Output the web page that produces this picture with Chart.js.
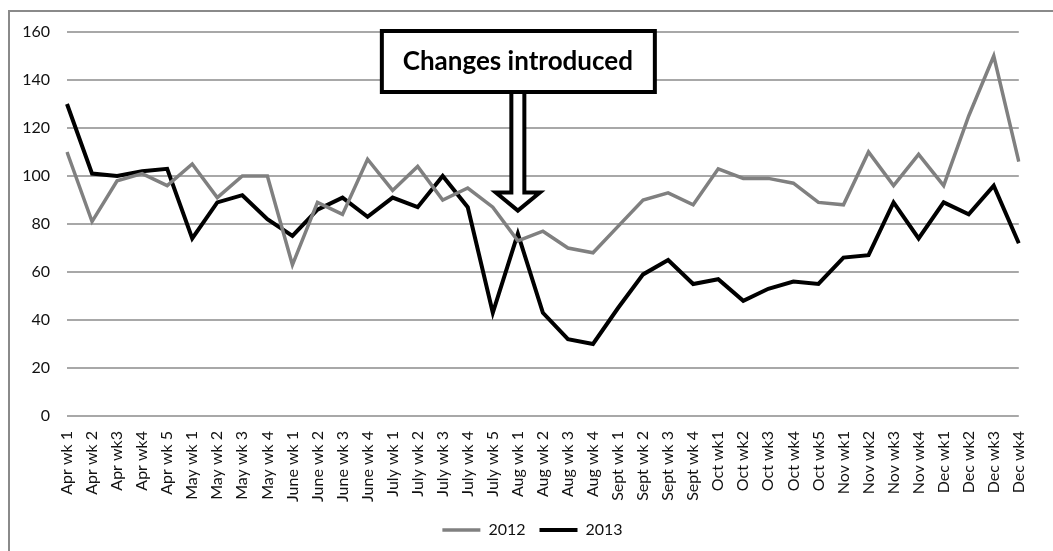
<!DOCTYPE html>
<html>
<head>
<meta charset="utf-8">
<script src="https://cdn.jsdelivr.net/npm/chart.js@4"></script>
<style>
  body { margin: 0; background: #fff; }
  .frame { position: absolute; left: 8px; top: 10px; width: 1100px; height: 600px; border: 2px solid #8a8a8a; }
  #myChart { position: absolute; left: 0; top: 0; }
</style>
</head>
<body>
<div class="frame"></div>
<canvas id="myChart" width="1053" height="551"></canvas>
<script>
const weeks = [
  'Apr wk 1', 'Apr wk 2', 'Apr wk3', 'Apr wk4', 'Apr wk 5',
  'May wk 1', 'May wk 2', 'May wk 3', 'May wk 4',
  'June wk 1', 'June wk 2', 'June wk 3', 'June wk 4',
  'July wk 1', 'July wk 2', 'July wk 3', 'July wk 4', 'July wk 5',
  'Aug wk 1', 'Aug wk 2', 'Aug wk 3', 'Aug wk 4',
  'Sept wk 1', 'Sept wk 2', 'Sept wk 3', 'Sept wk 4',
  'Oct wk1', 'Oct wk2', 'Oct wk3', 'Oct wk4', 'Oct wk5',
  'Nov wk1', 'Nov wk2', 'Nov wk3', 'Nov wk4',
  'Dec wk1', 'Dec wk2', 'Dec wk3', 'Dec wk4'
];
const values2012 = [
  110, 81, 98, 101, 96,
  105, 91, 100, 100,
  63, 89, 84, 107,
  94, 104, 90, 95, 87,
  73, 77, 70, 68,
  79, 90, 93, 88,
  103, 99, 99, 97, 89,
  88, 110, 96, 109,
  96, 125, 150, 106
];
const values2013 = [
  130, 101, 100, 102, 103,
  74, 89, 92, 82,
  75, 86, 91, 83,
  91, 87, 100, 87, 43,
  76, 43, 32, 30,
  45, 59, 65, 55,
  57, 48, 53, 56, 55,
  66, 67, 89, 74,
  89, 84, 96, 72
];
const yTicks = [0, 20, 40, 60, 80, 100, 120, 140, 160];
const noteText = 'Changes introduced';
const noteAt = 'Aug wk 1';

const font = 'Lato';

// box + hollow arrow pointing at the week the changes started
const notePlugin = {
  id: 'note',
  afterDraw(chart) {
    const ctx = chart.ctx;
    const x = chart.scales.x.getPixelForValue(weeks.indexOf(noteAt));
    const tipY = chart.scales.y.getPixelForValue(86) + 2;
    const boxTop = chart.scales.y.getPixelForValue(160) - 1;
    const boxBottom = boxTop + 61;
    const headTop = tipY - 19;
    ctx.save();
    ctx.lineWidth = 4;
    ctx.strokeStyle = '#000';
    ctx.fillStyle = '#fff';
    ctx.lineJoin = 'miter';
    // arrow
    ctx.beginPath();
    ctx.moveTo(x - 6.5, boxBottom);
    ctx.lineTo(x - 6.5, headTop);
    ctx.lineTo(x - 22, headTop);
    ctx.lineTo(x, tipY - 1);
    ctx.lineTo(x + 22, headTop);
    ctx.lineTo(x + 6.5, headTop);
    ctx.lineTo(x + 6.5, boxBottom);
    ctx.closePath();
    ctx.fill();
    ctx.stroke();
    // box
    ctx.beginPath();
    ctx.rect(x - 136, boxTop, 273, boxBottom - boxTop);
    ctx.fill();
    ctx.stroke();
    ctx.fillStyle = '#000';
    ctx.font = 'bold 26px ' + font;
    ctx.textAlign = 'center';
    ctx.textBaseline = 'middle';
    ctx.fillText(noteText, x, boxTop + 31, 234);
    ctx.restore();
  }
};

new Chart(document.getElementById('myChart'), {
  type: 'line',
  data: {
    labels: weeks,
    datasets: [{
      label: '2012',
      data: values2012,
      borderColor: '#808080',
      backgroundColor: '#808080',
      borderWidth: 3.5,
      pointRadius: 0,
      pointStyle: 'line',
      tension: 0
    }, {
      label: '2013',
      data: values2013,
      borderColor: '#000',
      backgroundColor: '#000',
      borderWidth: 4,
      pointRadius: 0,
      pointStyle: 'line',
      tension: 0
    }]
  },
  options: {
    responsive: false,
    animation: false,
    devicePixelRatio: 1,
    layout: { autoPadding: false, padding: { left: 18, right: 6, top: 32, bottom: 3 } },
    plugins: {
      tooltip: { enabled: false },
      legend: {
        position: 'bottom',
        labels: {
          usePointStyle: true,
          pointStyle: 'line',
          pointStyleWidth: 38,
          padding: 14,
          color: '#111',
          font: { family: font, size: 16 }
        }
      }
    },
    scales: {
      x: {
        afterFit(scale) { scale.height = 92; },
        grid: { display: false, drawTicks: false },
        border: { display: false },
        ticks: {
          autoSkip: false,
          minRotation: 90,
          maxRotation: 90,
          padding: 15,
          color: '#111',
          font: { family: font, size: 16 }
        }
      },
      y: {
        min: 0,
        max: 160,
        afterFit(scale) { scale.width = 49; },
        afterBuildTicks(scale) { scale.ticks = yTicks.map(v => ({ value: v })); },
        grid: { color: '#a8a8a8', lineWidth: 2, drawTicks: false },
        border: { display: false },
        ticks: {
          padding: 17,
          color: '#111',
          font: { family: font, size: 16 }
        }
      }
    }
  },
  plugins: [notePlugin]
});
</script>
</body>
</html>
